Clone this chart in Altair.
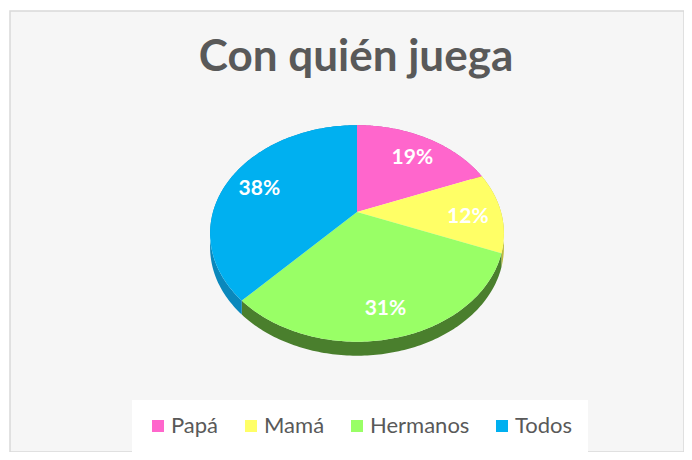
import altair as alt
import pandas as pd

# ---- data ----
categories = ["Papá", "Mamá", "Hermanos", "Todos"]
values = [19, 12, 31, 38]
top_colors = ["#FF66CC", "#FFFF66", "#99FF66", "#00B0F0"]
side_colors = ["#C0479C", "#BDBD3A", "#4A7F2D", "#0A88BC"]
title_text = "Con quién juega"

df = pd.DataFrame({"cat": categories, "value": values, "idx": list(range(len(categories)))})

# ---- geometry of the tilted pie ----
W, H = 674, 441          # view size
CX, CY = 347, 201        # pie centre inside the view
RX, RY = 144, 104        # projected radii
K = 0.198                # perspective strength
DEPTH = 14               # side wall thickness (px)
N = 120                  # arc resolution
R_LBL = 0.77             # label radius fraction

xdom = [-CX / RX, (W - CX) / RX]
ydom = [(CY - H) / RY, CY / RY]
xenc = alt.X("X:Q", scale=alt.Scale(domain=xdom), axis=None)
yenc = alt.Y("Y:Q", scale=alt.Scale(domain=ydom), axis=None)

base = alt.Chart(df).transform_joinaggregate(
    total="sum(value)"
).transform_window(
    cum="sum(value)", sort=[alt.SortField("idx")]
).transform_calculate(
    a0="2*PI*(datum.cum - datum.value)/datum.total",
    a1="2*PI*datum.cum/datum.total",
)

# side wall (drawn first, the top face covers the hidden part)
side = base.transform_calculate(
    pts=f"sequence(0, {2 * N + 2})"
).transform_flatten(["pts"]).transform_calculate(
    ang=f"datum.pts <= {N} ? datum.a0 + (datum.a1 - datum.a0) * datum.pts / {N} "
        f": datum.a1 - (datum.a1 - datum.a0) * (datum.pts - {N + 1}) / {N}",
    u="sin(datum.ang)",
    v="cos(datum.ang)",
    X=f"datum.u / (1 + {K} * datum.v)",
    Y=f"datum.v / (1 + {K} * datum.v) - (datum.pts > {N} ? {DEPTH / RY} : 0)",
).mark_line(filled=True, interpolate="linear-closed", strokeWidth=0).encode(
    x=xenc,
    y=yenc,
    color=alt.Color("cat:N", scale=alt.Scale(domain=categories, range=side_colors), legend=None),
    order=alt.Order("pts:Q"),
)

# top face
top = base.transform_calculate(
    pts=f"sequence(0, {N + 2})"
).transform_flatten(["pts"]).transform_calculate(
    ang=f"datum.a0 + (datum.a1 - datum.a0) * (datum.pts - 1) / {N}",
    u="datum.pts == 0 ? 0 : sin(datum.ang)",
    v="datum.pts == 0 ? 0 : cos(datum.ang)",
    X=f"datum.u / (1 + {K} * datum.v)",
    Y=f"datum.v / (1 + {K} * datum.v)",
).mark_line(filled=True, interpolate="linear-closed", strokeWidth=0).encode(
    x=xenc,
    y=yenc,
    color=alt.Color(
        "cat:N",
        scale=alt.Scale(domain=categories, range=top_colors),
        legend=alt.Legend(
            title=None,
            orient="none",
            legendX=122,
            legendY=389,
            direction="horizontal",
            fillColor="white",
            padding=15,
            symbolType="square",
            symbolSize=144,
            symbolStrokeWidth=0,
            labelFont="Lato",
            labelFontSize=22,
            labelColor="#595959",
            labelOffset=2,
            columnPadding=21,
        ),
    ),
    order=alt.Order("pts:Q"),
)

labels = base.transform_calculate(
    am="(datum.a0 + datum.a1) / 2",
    u=f"{R_LBL} * sin(datum.am)",
    v=f"{R_LBL} * cos(datum.am)",
    X=f"datum.u / (1 + {K} * datum.v)",
    Y=f"datum.v / (1 + {K} * datum.v)",
    lbl="datum.value + '%'",
).mark_text(
    font="Lato", fontWeight="bold", fontSize=21, color="white", baseline="middle", align="center", dy=5
).encode(x=xenc, y=yenc, text="lbl:N")

chart = alt.layer(side, top, labels).resolve_scale(color="independent").properties(
    width=W,
    height=H,
    title=alt.TitleParams(
        text=title_text,
        font="Lato",
        fontSize=44,
        fontWeight="bold",
        color="#595959",
        anchor="middle",
        frame="group",
        baseline="alphabetic",
        offset=0,
        dy=104,
        dx=9,
    ),
    padding={"left": 2, "top": 3, "right": 0, "bottom": 0},
    autosize="none",
    background="white",
).configure_view(fill="#F6F6F6", stroke="#D9D9D9", strokeWidth=1.5)

chart.save("out.html", embed_options={"renderer": "svg", "actions": False})
